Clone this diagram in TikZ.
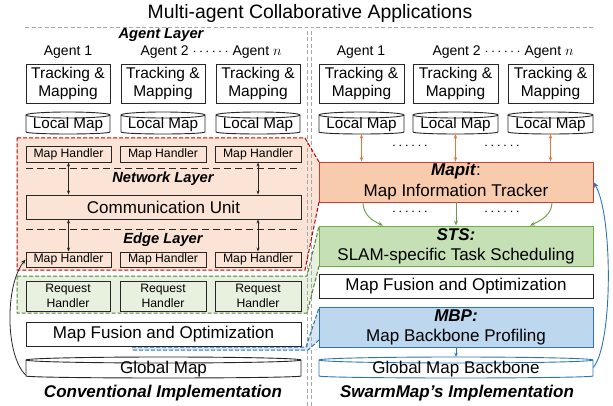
\documentclass[tikz,border=0pt]{standalone}
\usepackage{fontspec}
\setmainfont{Liberation Sans}
\usetikzlibrary{arrows.meta}
\definecolor{boxline}{HTML}{262626}
\definecolor{framegray}{HTML}{A6A6A6}
\definecolor{redline}{HTML}{C00000}
\definecolor{redfill}{HTML}{FBE3D6}
\definecolor{greenline}{HTML}{548235}
\definecolor{greenfill}{HTML}{E8F0E0}
\definecolor{bluedashc}{HTML}{2E75B6}
\definecolor{bluefill}{HTML}{D6E6F4}
\definecolor{mapitfill}{HTML}{F8CBAD}
\definecolor{mapitline}{HTML}{D03A3A}
\definecolor{stsfill}{HTML}{C5E0B4}
\definecolor{stsline}{HTML}{70AD47}
\definecolor{mbpfill}{HTML}{BDD7EE}
\definecolor{mbpline}{HTML}{2E75B6}
\definecolor{orangearr}{HTML}{E07B39}
\definecolor{greenarr}{HTML}{6A9A4A}
\newcommand\titlefont{\fontsize{19.4}{23}\selectfont}
\newcommand\bigfont{\fontsize{17}{21}\selectfont}
\newcommand\stsfont{\fontsize{17}{20}\selectfont}
\newcommand\midfont{\fontsize{15.5}{18}\selectfont}
\newcommand\lmfont{\fontsize{15.2}{18}\selectfont}
\newcommand\agentfont{\fontsize{14}{17}\selectfont}
\newcommand\smallfont{\fontsize{12.2}{14.5}\selectfont}
\newcommand\layerfont{\fontsize{14.7}{17}\selectfont\bfseries\itshape}
\newcommand\implfont{\fontsize{17}{20}\selectfont\bfseries\itshape}
\newcommand\rectnode[7]{%
  \node[#6,minimum width={(#4-#2)*1pt},minimum height={(#5-#3)*1pt}] (#1) at ({(#2+#4)/2},{(#3+#5)/2}) {#7};}
\newcommand\cylnode[8]{%
  \pgfmathsetmacro\cylrx{(#4-#2)/2}%
  \draw[#6] (#2,#3+3) -- (#2,#5-2) arc[start angle=180,end angle=360,x radius=\cylrx pt,y radius=2pt] -- (#4,#3+3) arc[start angle=0,end angle=180,x radius=\cylrx pt,y radius=3pt] -- cycle;%
  \draw[#6,fill=none] (#2,#3+3) arc[start angle=180,end angle=360,x radius=\cylrx pt,y radius=3pt];%
  \node[inner sep=0pt,minimum width={(#4-#2)*1pt},minimum height={(#5-#3)*1pt}] (#1) at ({(#2+#4)/2},{(#3+#5)/2}) {};%
  \node[#7] (#1-t) at ({(#2+#4)/2},{(#3+#5)/2+2}) {#8};}
\begin{document}
\begin{tikzpicture}[x=1pt,y=-1pt,
  box/.style={draw=boxline,line width=0.9pt,inner sep=0pt,align=center},
  cyl/.style={draw=boxline,line width=0.9pt,fill=white},
  cylblue/.style={draw=mbpline,line width=0.9pt,fill=white},
  reddash/.style={draw=redline,line width=1pt,dash pattern=on 4pt off 2pt},
  greendash/.style={draw=greenline,line width=1pt,dash pattern=on 4pt off 2pt},
  bluedash/.style={draw=bluedashc,line width=1pt,dash pattern=on 4pt off 2pt},
  graydash/.style={draw=framegray,line width=0.9pt,dash pattern=on 4pt off 2.5pt},
  sepdash/.style={draw=boxline,line width=0.9pt,dash pattern=on 7pt off 4pt},
  dblarr/.style={draw=boxline,line width=0.7pt,{Stealth[length=4pt,width=3pt]}-{Stealth[length=4pt,width=3pt]}},
  oarr/.style={draw=orangearr,line width=0.9pt,{Stealth[length=4.5pt,width=3.5pt]}-{Stealth[length=4.5pt,width=3.5pt]}},
  garr/.style={draw=greenarr,line width=0.9pt,-{Stealth[length=5pt,width=4pt]}},
  barr/.style={draw=mbpline,line width=0.9pt,-{Stealth[length=6pt,width=4.5pt]}},
  karr/.style={draw=boxline,line width=0.8pt,-{Stealth[length=5pt,width=4pt]}},
  lbl/.style={inner sep=0pt}]
\useasboundingbox (0,0) rectangle (613,406);

% shaded regions
\fill[redfill] (17,138) -- (305,138) -- (319,162) -- (319,202) -- (305,270) -- (17,270) -- cycle;
\fill[greenfill] (17,276) -- (307,276) -- (319,226) -- (319,266) -- (307,313) -- (17,313) -- cycle;
\fill[bluefill] (132,347) -- (306,347) -- (319,308) -- (319,340) -- (308,350) -- (132,350) -- cycle;

% gray frames
\draw[graydash] (25,27) -- (307,27) -- (307,406);
\draw[graydash] (593,27) -- (311,27) -- (311,406);

\draw[reddash] (17,138) -- (305,138) -- (319,162) (319,202) -- (305,270) -- (17,270) -- (17,138);
\draw[greendash] (17,276) -- (307,276) -- (319,226) (319,266) -- (307,313) -- (17,313) -- (17,276);
\draw[bluedash] (132,347) -- (306,347) -- (319,308) (319,340) -- (308,350) -- (132,350);

% title
\node[lbl,font=\titlefont] (title) at (310,13) {Multi-agent Collaborative Applications};

% ---------- left panel ----------
\node[lbl,font=\layerfont] (agentlayer) at (161,35) {Agent Layer};
\node[lbl,font=\agentfont] (a1L) at (68,52) {Agent 1};
\node[lbl,font=\agentfont] (anL) at (211,52) {Agent 2 $\cdots\cdots$ Agent $n$};

\rectnode{tmL1}{26}{64}{110}{103}{box,font=\midfont}{Tracking \&\\Mapping}
\rectnode{tmL2}{121}{64}{205}{103}{box,font=\midfont}{Tracking \&\\Mapping}
\rectnode{tmL3}{216}{64}{300}{103}{box,font=\midfont}{Tracking \&\\Mapping}

\cylnode{lmL1}{26}{112}{110}{134}{cyl}{lbl,font=\lmfont}{Local Map}
\cylnode{lmL2}{121}{112}{205}{134}{cyl}{lbl,font=\lmfont}{Local Map}
\cylnode{lmL3}{216}{112}{300}{134}{cyl}{lbl,font=\lmfont}{Local Map}

\rectnode{mhT1}{26}{146}{111}{162}{box,font=\smallfont}{Map Handler}
\rectnode{mhT2}{120}{146}{206}{162}{box,font=\smallfont}{Map Handler}
\rectnode{mhT3}{215}{146}{301}{162}{box,font=\smallfont}{Map Handler}

\coordinate (s1a) at (26,168); \coordinate (s1b) at (301,168);
\draw[sepdash] (s1a) -- (s1b);
\node[lbl,font=\layerfont] (netlayer) at (163,179) {Network Layer};

\rectnode{comm}{26}{195}{301}{219}{box,font=\bigfont}{Communication Unit}

\coordinate (s2a) at (26,229); \coordinate (s2b) at (301,229);
\draw[sepdash] (s2a) -- (s2b);
\node[lbl,font=\layerfont] (edgelayer) at (163,240) {Edge Layer};

\rectnode{mhB1}{26}{252}{111}{267}{box,font=\smallfont}{Map Handler}
\rectnode{mhB2}{120}{252}{206}{267}{box,font=\smallfont}{Map Handler}
\rectnode{mhB3}{215}{252}{301}{267}{box,font=\smallfont}{Map Handler}

\draw[dblarr] (mhT1.south) -- (mhT1.south |- comm.north);
\draw[dblarr] (mhT3.south) -- (mhT3.south |- comm.north);
\draw[dblarr] (mhB1.north |- comm.south) -- (mhB1.north);
\draw[dblarr] (mhB3.north |- comm.south) -- (mhB3.north);

\rectnode{rh1}{26}{281}{110}{311}{box,font=\smallfont}{Request\\Handler}
\rectnode{rh2}{120}{281}{206}{311}{box,font=\smallfont}{Request\\Handler}
\rectnode{rh3}{215}{281}{301}{311}{box,font=\smallfont}{Request\\Handler}

\rectnode{mfoL}{26}{322}{301}{346}{box,fill=white,font=\bigfont}{Map Fusion and Optimization}

\cylnode{gmL}{26}{357}{301}{378}{cyl}{lbl,font=\bigfont}{Global Map}

\node[lbl,font=\implfont] (implL) at (163,393) {Conventional Implementation};

\draw[karr] ([yshift=3pt]gmL.south west) .. controls (5,355) and (5,285) .. (mhB1.west);

% ---------- right panel ----------
\node[lbl,font=\agentfont] (a1R) at (361,52) {Agent 1};
\node[lbl,font=\agentfont] (anR) at (503,52) {Agent 2 $\cdots\cdots$ Agent $n$};

\rectnode{tmR1}{319}{64}{404}{103}{box,font=\midfont}{Tracking \&\\Mapping}
\rectnode{tmR2}{413}{64}{498}{103}{box,font=\midfont}{Tracking \&\\Mapping}
\rectnode{tmR3}{508}{64}{593}{103}{box,font=\midfont}{Tracking \&\\Mapping}

\cylnode{lmR1}{319}{112}{404}{134}{cyl}{lbl,font=\lmfont}{Local Map}
\cylnode{lmR2}{413}{112}{498}{134}{cyl}{lbl,font=\lmfont}{Local Map}
\cylnode{lmR3}{508}{112}{593}{134}{cyl}{lbl,font=\lmfont}{Local Map}

\rectnode{mapit}{319}{162}{593}{202}{box,draw=mapitline,fill=mapitfill,font=\bigfont}{\textbf{\textit{Mapit}}:\\Map Information Tracker}

\draw[oarr] (lmR1.south) -- (lmR1.south |- mapit.north);
\draw[oarr] (lmR2.south) -- (lmR2.south |- mapit.north);
\draw[oarr] (lmR3.south) -- (lmR3.south |- mapit.north);
\node[lbl,font=\agentfont] (d1) at (410,146) {$\cdots\cdots$};
\node[lbl,font=\agentfont] (d2) at (502,146) {$\cdots\cdots$};

\rectnode{sts}{319}{226}{593}{266}{box,draw=stsline,fill=stsfill,font=\stsfont}{\textbf{\textit{STS:}}\\SLAM-specific Task Scheduling}

\draw[garr] ([xshift=-93pt]mapit.south) .. controls +(0,12) and +(-11,-5) .. ([xshift=-73pt]sts.north);
\draw[garr] (mapit.south) -- (sts.north);
\draw[garr] ([xshift=96pt]mapit.south) .. controls +(0,12) and +(11,-5) .. ([xshift=74pt]sts.north);
\node[lbl,font=\agentfont] (d3) at (410,212) {$\cdots\cdots$};
\node[lbl,font=\agentfont] (d4) at (502,212) {$\cdots\cdots$};

\rectnode{mfoR}{319}{274}{593}{298}{box,font=\bigfont}{Map Fusion and Optimization}

\rectnode{mbp}{319}{307}{593}{347}{box,draw=mbpline,fill=mbpfill,font=\stsfont}{\textbf{\textit{MBP:}}\\Map Backbone Profiling}

\cylnode{gmb}{319}{357}{593}{378}{cylblue}{lbl,font=\bigfont}{Global Map Backbone}

\draw[barr,-{Stealth[length=4pt,width=3.5pt]}] (mbp.south) -- (gmb.north);
\draw[barr] (gmb.east) .. controls (613,345) and (613,215) .. (mapit.east);

\node[lbl,font=\implfont] (implR) at (457,393) {SwarmMap’s Implementation};
\end{tikzpicture}
\end{document}
